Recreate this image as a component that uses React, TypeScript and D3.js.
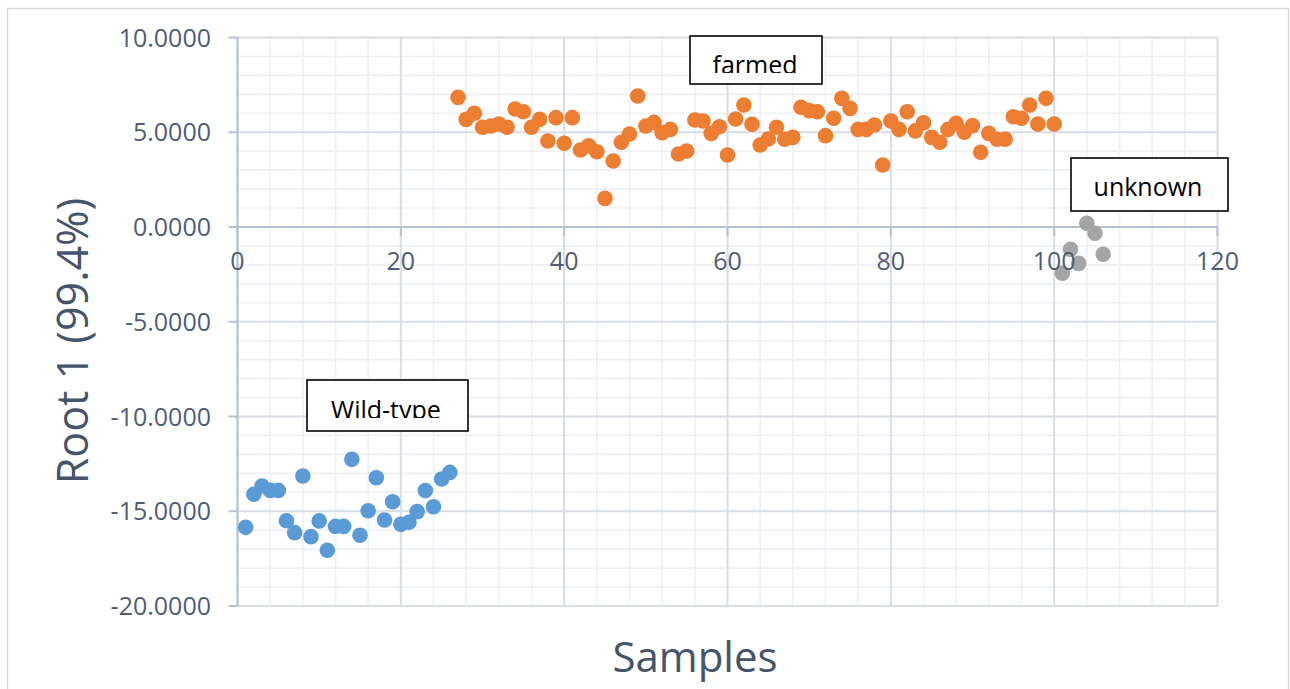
import * as d3 from 'd3';

// sample numbers and root 1 scores
const wildSamples = [1, 2, 3, 4, 5, 6, 7, 8, 9, 10, 11, 12, 13, 14, 15, 16, 17, 18, 19, 20, 21, 22, 23, 24, 25, 26];
const wildRoot1 = [
  -15.85, -14.1, -13.67, -13.9, -13.9, -15.5, -16.13, -13.14, -16.34, -15.51, -17.06, -15.8, -15.8,
  -12.26, -16.27, -14.97, -13.23, -15.46, -14.5, -15.69, -15.58, -15.02, -13.91, -14.76, -13.3, -12.95,
];

const farmedSamples = [
  27, 28, 29, 30, 31, 32, 33, 34, 35, 36, 37, 38, 39, 40, 41, 42, 43, 44, 45, 46, 47, 48, 49, 50, 51,
  52, 53, 54, 55, 56, 57, 58, 59, 60, 61, 62, 63, 64, 65, 66, 67, 68, 69, 70, 71, 72, 73, 74, 75, 76,
  77, 78, 79, 80, 81, 82, 83, 84, 85, 86, 87, 88, 89, 90, 91, 92, 93, 94, 95, 96, 97, 98, 99, 100,
];
const farmedRoot1 = [
  6.84, 5.68, 6.0, 5.26, 5.33, 5.43, 5.26, 6.23, 6.08, 5.26, 5.68, 4.54, 5.77, 4.42, 5.77, 4.06, 4.29,
  3.97, 1.51, 3.48, 4.47, 4.91, 6.91, 5.33, 5.52, 4.98, 5.15, 3.85, 4.01, 5.65, 5.59, 4.94, 5.29, 3.8,
  5.7, 6.44, 5.42, 4.33, 4.64, 5.26, 4.63, 4.73, 6.32, 6.14, 6.08, 4.82, 5.74, 6.79, 6.26, 5.15, 5.15,
  5.38, 3.27, 5.59, 5.15, 6.08, 5.07, 5.5, 4.73, 4.47, 5.15, 5.47, 5.0, 5.35, 3.94, 4.94, 4.63, 4.63,
  5.82, 5.74, 6.44, 5.43, 6.79, 5.43,
];

const unknownSamples = [101, 102, 103, 104, 105, 106];
const unknownRoot1 = [-2.44, -1.18, -1.92, 0.2, -0.33, -1.44];

const xTicks = [0, 20, 40, 60, 80, 100, 120];
const yTicks = [10, 5, 0, -5, -10, -15, -20];

const series = [
  { name: 'Wild-type', xs: wildSamples, ys: wildRoot1, color: '#5b9bd5' },
  { name: 'farmed', xs: farmedSamples, ys: farmedRoot1, color: '#ed7d31' },
  { name: 'unknown', xs: unknownSamples, ys: unknownRoot1, color: '#a5a5a5' },
];

const W = 1290;
const H = 689;
const axisColor = '#b8c1cf';
const majorGrid = '#d9dee6';
const minorGrid = '#edf0f4';
const textColor = '#4f5d73';
const titleColor = '#44546a';
const font = '"Open Sans", "DejaVu Sans", sans-serif';

export default function App() {
  const x = d3.scaleLinear().domain([0, 120]).range([237.5, 1217.5]);
  const y = d3.scaleLinear().domain([-20, 10]).range([606, 37.5]);

  const minorX = d3.range(0, 121, 4);
  const minorY = d3.range(-20, 11, 1);

  // annotation boxes (label text gets clipped at the bottom like in the original)
  const notes = [
    { text: 'farmed', x0: 690, y0: 36, x1: 822, y1: 84, tx: 755, ty: 74, clipY: 73 },
    { text: 'unknown', x0: 1071, y0: 158, x1: 1228, y1: 211, tx: 1148, ty: 196, clipY: 211 },
    { text: 'Wild-type', x0: 307, y0: 380, x1: 468, y1: 431, tx: 386, ty: 419, clipY: 418 },
  ];

  return (
    <div style={{ position: 'absolute', left: 0, top: 0 }}>
      <svg width={W} height={H} style={{ display: 'block', background: '#fff' }}>
        <defs>
          {notes.map((n, i) => (
            <clipPath id={`clip-${i}`} key={i}>
              <rect x={n.x0} y={n.y0} width={n.x1 - n.x0} height={n.clipY - n.y0} />
            </clipPath>
          ))}
        </defs>

        {/* outer chart frame */}
        <rect x={7.5} y={8.5} width={1281} height={H + 10} fill="none" stroke="#d9d9d9" strokeWidth={1.5} />

        {/* minor gridlines */}
        <g stroke={minorGrid} strokeWidth={1.6}>
          {minorX.map(v => (
            <line key={`mx${v}`} x1={x(v)} x2={x(v)} y1={y(10)} y2={y(-20)} />
          ))}
          {minorY.map(v => (
            <line key={`my${v}`} x1={x(0)} x2={x(120)} y1={y(v)} y2={y(v)} />
          ))}
        </g>

        {/* major gridlines */}
        <g stroke={majorGrid} strokeWidth={2}>
          {xTicks.map(v => (
            <line key={`gx${v}`} x1={x(v)} x2={x(v)} y1={y(10)} y2={y(-20)} />
          ))}
          {yTicks.map(v => (
            <line key={`gy${v}`} x1={x(0)} x2={x(120)} y1={y(v)} y2={y(v)} />
          ))}
        </g>

        {/* axes */}
        <g stroke={axisColor} strokeWidth={2}>
          <line x1={x(0)} x2={x(0)} y1={y(10)} y2={y(-20)} />
          {yTicks.map(v => (
            <line key={`ty${v}`} x1={x(0) - 9} x2={x(0)} y1={y(v)} y2={y(v)} />
          ))}
          <line x1={x(0)} x2={x(120)} y1={y(0)} y2={y(0)} />
          {xTicks.map(v => (
            <line key={`tx${v}`} x1={x(v)} x2={x(v)} y1={y(0)} y2={y(0) + 9} />
          ))}
        </g>

        {/* points */}
        {series.map(s => (
          <g key={s.name} fill={s.color}>
            {s.ys.map((v, i) => (
              <circle key={i} cx={x(s.xs[i])} cy={y(v)} r={7.8} />
            ))}
          </g>
        ))}

        {/* tick labels */}
        <g fontFamily={font} fontSize={25} fill={textColor}>
          {yTicks.map(v => (
            <text key={`ly${v}`} x={211} y={y(v)} dy="0.36em" textAnchor="end">
              {v.toFixed(4)}
            </text>
          ))}
          {xTicks.map(v => (
            <text key={`lx${v}`} x={x(v)} y={270} textAnchor="middle">
              {v}
            </text>
          ))}
        </g>

        {/* axis titles */}
        <text
          transform="translate(88,341) rotate(-90)"
          textAnchor="middle"
          fontFamily={font}
          fontSize={43}
          fill={titleColor}
        >
          Root 1 (99.4%)
        </text>
        <text x={695} y={672} textAnchor="middle" fontFamily={font} fontSize={42} fill={titleColor}>
          Samples
        </text>

        {/* annotation boxes */}
        {notes.map((n, i) => (
          <g key={n.text}>
            <rect x={n.x0} y={n.y0} width={n.x1 - n.x0} height={n.y1 - n.y0} fill="#fff" stroke="#000" strokeWidth={1.6} />
            <text
              x={n.tx}
              y={n.ty}
              textAnchor="middle"
              fontFamily={font}
              fontSize={25}
              fill="#000"
              clipPath={`url(#clip-${i})`}
            >
              {n.text}
            </text>
          </g>
        ))}
      </svg>
    </div>
  );
}
